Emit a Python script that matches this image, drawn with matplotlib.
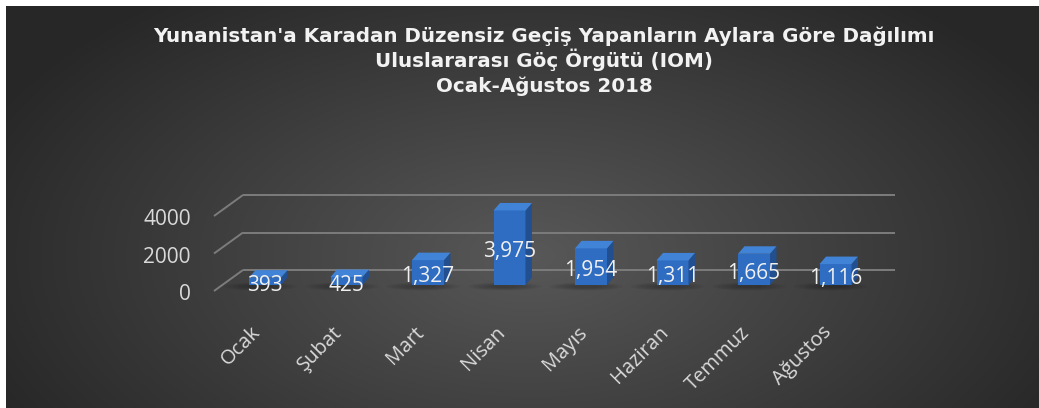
import numpy as np
import matplotlib
matplotlib.use("Agg")
import matplotlib.pyplot as plt
from matplotlib.patches import Polygon, Ellipse
from matplotlib.transforms import ScaledTranslation

# ---------------- data ----------------
months = ["Ocak", "Şubat", "Mart", "Nisan", "Mayıs", "Haziran", "Temmuz", "Ağustos"]
values = [393, 425, 1327, 3975, 1954, 1311, 1665, 1116]
yticks = [0, 2000, 4000]
title_lines = [
    "Yunanistan'a Karadan Düzensiz Geçiş Yapanların Aylara Göre Dağılımı",
    "Uluslararası Göç Örgütü (IOM)",
    "Ocak-Ağustos 2018",
]

# ---------------- figure ----------------
W, H, DPI = 1039, 408, 100
fig = plt.figure(figsize=(W / DPI, H / DPI), dpi=DPI, facecolor="white")

# background with radial gradient (white margin on top/left)
bg = fig.add_axes([6 / W, 0, 1 - 6 / W, 1 - 6 / H])
bg.axis("off")
ny, nx = H - 6, W - 6
yy, xx = np.mgrid[0:ny, 0:nx]
px = xx + 6.0
py = yy + 6.0
cx, cy, rx, ry = 530.0, 255.0, 600.0, 330.0
r = np.clip(np.sqrt(((px - cx) / rx) ** 2 + ((py - cy) / ry) ** 2), 0, 1)
c_center = np.array([0x58, 0x58, 0x58]) / 255.0
c_edge = np.array([0x27, 0x27, 0x27]) / 255.0
img = c_edge[None, None, :] + (c_center - c_edge)[None, None, :] * (1 - r)[..., None]
bg.imshow(img, aspect="auto", extent=[0, 1, 0, 1], origin="upper", interpolation="bilinear")
bg.set_xlim(0, 1)
bg.set_ylim(0, 1)

# ---------------- main axes geometry (pixels) ----------------
sx = 81.5            # px per category
sy = 37.5 / 2000.0   # px per value unit
x0px, y0px = 265.0, 285.0
xlim = (-1.0, 8.0)
ylim = (-2000.0, 5000.0)
left_px = x0px + sx * xlim[0]
right_px = x0px + sx * xlim[1]
bottom_px = y0px - sy * ylim[0]
top_px = y0px - sy * ylim[1]
ax = fig.add_axes([left_px / W, 1 - bottom_px / H,
                   (right_px - left_px) / W, (bottom_px - top_px) / H])
ax.set_xlim(*xlim)
ax.set_ylim(*ylim)
ax.patch.set_alpha(0)
for s in ax.spines.values():
    s.set_visible(False)

def px2x(p):
    return p / sx

def px2y(p):
    return p / sy

# depth / gridline geometry
back_off = px2y(15)        # back wall above bar base
front_off = px2y(-6)       # front edge below bar base
xb0 = px2x(243 - x0px)
xb1 = px2x(895 - x0px)
xf0 = px2x(214 - x0px)
grid_c = "#7c7c7c"
for v in yticks:
    ax.plot([xb0, xb1], [v + back_off, v + back_off], color=grid_c, lw=1.4, zorder=1,
            solid_capstyle="butt")
    ax.plot([xf0, xb0], [v + front_off, v + back_off], color=grid_c, lw=1.4, zorder=1,
            solid_capstyle="butt")
    ax.text(px2x(191 - x0px), v + front_off - px2y(4), f"{v}", ha="right", va="center",
            color="#d9d9d9", fontsize=15, family=["Open Sans", "DejaVu Sans"])

# ---------------- bars (pseudo 3D) ----------------
xs = np.arange(len(months))
bw = 32 / sx
ddx = px2x(6.5)
ddy = px2y(7.5)

for x, v in zip(xs, values):
    # soft shadow on the floor
    for k in range(6):
        f = 1 - 0.13 * k
        ax.add_patch(Ellipse((x - 0.06, px2y(-1.5)), 0.9 * f, px2y(8) * f,
                             facecolor="black", edgecolor="none", alpha=0.045, zorder=2))

ax.bar(xs, values, width=bw, color="#2e6dc2", edgecolor="none", zorder=4)
for x, v in zip(xs, values):
    xr = x + bw / 2
    xl = x - bw / 2
    ax.add_patch(Polygon([(xr, 0), (xr + ddx, ddy), (xr + ddx, v + ddy), (xr, v)],
                         closed=True, facecolor="#214f8f", edgecolor="none", zorder=4))
    ax.add_patch(Polygon([(xl, v), (xr, v), (xr + ddx, v + ddy), (xl + ddx, v + ddy)],
                         closed=True, facecolor="#4183d6", edgecolor="none", zorder=4))

# data labels
lab_off = ScaledTranslation(0, -9.5 / DPI, fig.dpi_scale_trans)
for x, v in zip(xs, values):
    ax.text(x, v / 2, f"{v:,}", ha="center", va="baseline", color="#f0f0f0",
            fontsize=15, family=["Open Sans", "DejaVu Sans"],
            transform=ax.transData + lab_off, zorder=6)

# category tick labels
ax.set_yticks([])
ax.set_xticks(xs)
ax.set_xticklabels(months, rotation=45, ha="right", color="#d9d9d9", fontsize=14.5,
                   family=["Open Sans", "DejaVu Sans"])
ax.tick_params(axis="x", length=0, pad=0)

# ---------------- title ----------------
baselines = [42, 67, 92]
for line, b in zip(title_lines, baselines):
    fig.text(544 / W, 1 - b / H, line, ha="center", va="baseline", color="#f2f2f2",
             fontsize=14.3, fontweight="bold", family=["DejaVu Sans"])

fig.savefig("out.png", dpi=DPI, facecolor="white")
